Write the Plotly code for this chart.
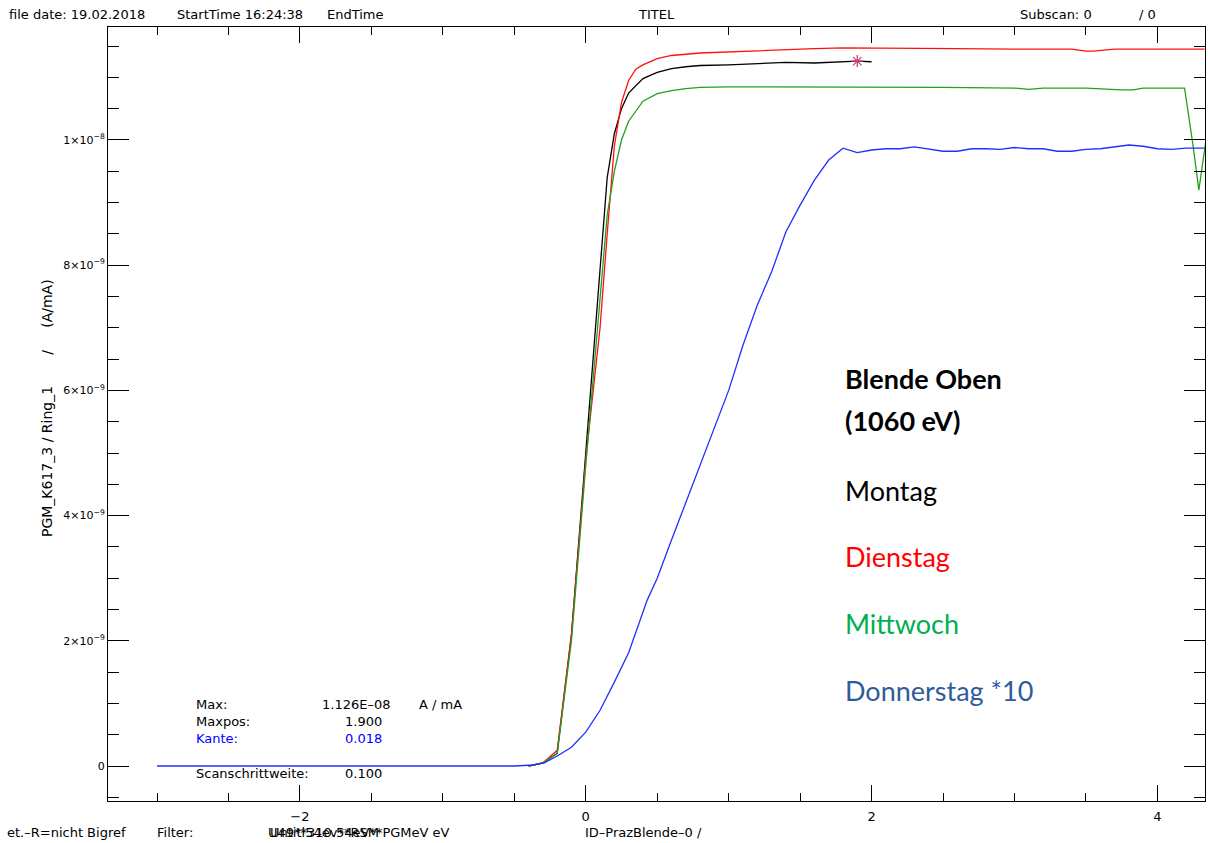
import plotly.graph_objects as go

# ---------------- data (x in eV offset, y in units of 1e-9 A/mA) ----------------
mon_x = [-0.4, -0.3, -0.2, -0.1, 0.0, 0.1, 0.15, 0.2, 0.25, 0.3, 0.4, 0.5, 0.6, 0.7, 0.8,
         1.0, 1.2, 1.4, 1.6, 1.8, 1.9, 2.0]
mon_y = [0.0, 0.05, 0.2, 2.1, 5.0, 7.9, 9.4, 10.1, 10.5, 10.75, 10.98, 11.08, 11.14, 11.17, 11.19,
         11.2, 11.22, 11.24, 11.23, 11.25, 11.26, 11.25]

die_x = [-0.4, -0.3, -0.2, -0.1, 0.0, 0.1, 0.15, 0.2, 0.25, 0.3, 0.35, 0.4, 0.5, 0.6, 0.8,
         1.0, 1.2, 1.4, 1.6, 1.8, 2.0, 2.2, 2.6, 3.0, 3.4, 3.5, 3.55, 3.7, 4.0, 4.33]
die_y = [0.0, 0.05, 0.25, 2.1, 4.9, 7.0, 8.5, 9.9, 10.6, 10.95, 11.13, 11.2, 11.3, 11.35, 11.39,
         11.41, 11.43, 11.45, 11.46, 11.47, 11.47, 11.46, 11.46, 11.45, 11.45, 11.42, 11.42, 11.45, 11.45, 11.45]

mit_x = [-0.4, -0.3, -0.2, -0.1, 0.0, 0.1, 0.15, 0.2, 0.25, 0.3, 0.4, 0.5, 0.6, 0.7, 0.8,
         1.0, 1.5, 2.0, 2.5, 3.0, 3.1, 3.2, 3.5, 3.75, 3.83, 3.9, 4.19, 4.25, 4.29, 4.34]
mit_y = [0.0, 0.05, 0.2, 2.0, 4.8, 7.4, 8.8, 9.5, 10.0, 10.3, 10.62, 10.74, 10.79, 10.82, 10.84,
         10.85, 10.85, 10.85, 10.84, 10.83, 10.81, 10.83, 10.83, 10.80, 10.80, 10.83, 10.83, 9.9, 9.2, 10.0]

don_x = [-3.0, -2.0, -1.0, -0.5, -0.37, -0.29, -0.2, -0.1, 0.0, 0.1, 0.2, 0.3, 0.43, 0.5, 0.6,
         0.7, 0.8, 0.9, 1.0, 1.1, 1.2, 1.3, 1.4, 1.5, 1.6, 1.7, 1.8, 1.9, 2.0, 2.1, 2.2, 2.3,
         2.4, 2.5, 2.6, 2.7, 2.8, 2.9, 3.0, 3.1, 3.2, 3.3, 3.4, 3.5, 3.6, 3.7, 3.8, 3.9, 4.0,
         4.1, 4.2, 4.33]
don_y = [0.0, 0.0, 0.0, 0.0, 0.016, 0.05, 0.16, 0.30, 0.54, 0.89, 1.34, 1.81, 2.65, 3.0, 3.61,
         4.2, 4.81, 5.4, 6.0, 6.72, 7.36, 7.89, 8.53, 8.96, 9.36, 9.68, 9.87, 9.80, 9.84, 9.86, 9.86, 9.89,
         9.85, 9.82, 9.82, 9.86, 9.86, 9.85, 9.88, 9.86, 9.86, 9.82, 9.82, 9.85, 9.86, 9.89, 9.92, 9.90, 9.86,
         9.85, 9.87, 9.87]

max_x = [1.9]
max_y = [11.26]

ytick_vals = [0, 2, 4, 6, 8, 10]
ytick_text = ["0", "2×10<sup>−9</sup>", "4×10<sup>−9</sup>", "6×10<sup>−9</sup>",
              "8×10<sup>−9</sup>", "1×10<sup>−8</sup>"]
xtick_vals = [-2, 0, 2, 4]
xtick_text = ["−2", "0", "2", "4"]

E = 1e-9
fig = go.Figure()
fig.add_trace(go.Scatter(x=mon_x, y=[v * E for v in mon_y], mode="lines",
                         line=dict(color="#000000", width=1.3), name="Montag"))
fig.add_trace(go.Scatter(x=die_x, y=[v * E for v in die_y], mode="lines",
                         line=dict(color="#FF1010", width=1.3), name="Dienstag"))
fig.add_trace(go.Scatter(x=mit_x, y=[v * E for v in mit_y], mode="lines",
                         line=dict(color="#22A022", width=1.3), name="Mittwoch"))
fig.add_trace(go.Scatter(x=don_x, y=[v * E for v in don_y], mode="lines",
                         line=dict(color="#2030FF", width=1.3), name="Donnerstag"))
fig.add_trace(go.Scatter(x=max_x, y=[v * E for v in max_y], mode="markers",
                         marker=dict(symbol="asterisk-open", size=10, color="#D0407A",
                                     line=dict(color="#D0407A", width=1.3)), name="max"))

# page body margin is removed in post_script, so the figure sits at (0, 0)
OFF = 0
W, H = 1208 - OFF, 843 - OFF
L, R, T, B = 108, 1205, 27, 801   # plot-area edges in window pixels


def px(x):
    return (x - L) / (R - L)


def py(y):
    return (B - y) / (B - T)


annos = []


def txt(x, y, s, size=13, color="#000000", anchor="left", family="DejaVu Sans", bold=False, angle=0):
    annos.append(dict(x=px(x), y=py(y), xref="paper", yref="paper", text=("<b>%s</b>" % s) if bold else s,
                      showarrow=False, xanchor=anchor, yanchor="middle", textangle=angle,
                      font=dict(family=family, size=size, color=color)))


NB = "\u00a0"
txt(7, 14, "file date: 19.02.2018")
txt(175, 14, "StartTime 16:24:38")
txt(325, 14, "EndTime")
txt(656, 14, "TITEL", anchor="center")
txt(1018, 14, "Subscan: 0")
txt(1137, 14, "/ 0")

txt(5, 832, "et.–R=nicht Bigref")
txt(155, 832, "Filter:")
txt(266, 832, "U49**310.54eV**PGMeV eV")
txt(268, 832, "Untitl54ev**RSM")
txt(583, 832, "ID–PrazBlende–0 /")

txt(47, 408, "PGM_K617_3 / Ring_1" + NB * 7 + "/" + NB * 5 + "(A/mA)", size=14, angle=-90, anchor="center")

txt(194, 704, "Max:")
txt(320, 704, "1.126E–08")
txt(417, 704, "A / mA")
txt(194, 721, "Maxpos:")
txt(384, 721, "1.900", anchor="right")
txt(194, 738, "Kante:", color="#0000FF")
txt(384, 738, "0.018", color="#0000FF", anchor="right")
txt(194, 773, "Scanschrittweite:")
txt(384, 773, "0.100", anchor="right")

BIG = "Lato"
txt(843, 379, "Blende Oben", size=27, bold=True, family=BIG)
txt(843, 421, "(1060 eV)", size=27, bold=True, family=BIG)
txt(843, 490, "Montag", size=27, family=BIG, color="#000000")
txt(843, 556, "Dienstag", size=27, family=BIG, color="#FF0000")
txt(843, 623, "Mittwoch", size=27, family=BIG, color="#00B050")
txt(843, 690, "Donnerstag *10", size=27, family=BIG, color="#2F5B9A")

x0 = -3.343
x1 = 4.333
y0 = -0.559e-9
y1 = 11.805e-9

fig.update_layout(
    width=W, height=H,
    margin=dict(l=L - OFF, r=W - (R - OFF), t=T - OFF, b=H - (B - OFF), pad=0),
    paper_bgcolor="white", plot_bgcolor="white",
    showlegend=False,
    annotations=annos,
    xaxis=dict(range=[x0, x1], showgrid=False, zeroline=False,
               showline=True, linecolor="black", linewidth=1, mirror="ticks",
               ticks="inside", ticklen=16, tickwidth=1, tickcolor="black",
               tickmode="array", tickvals=xtick_vals, ticktext=xtick_text, ticklabelstandoff=3,
               tickfont=dict(family="DejaVu Sans", size=13, color="#000000"),
               minor=dict(ticks="inside", ticklen=8, tickwidth=1, tickcolor="black",
                          tickmode="linear", tick0=0, dtick=0.5, showgrid=False)),
    yaxis=dict(range=[y0, y1], showgrid=False, zeroline=False,
               showline=True, linecolor="black", linewidth=1, mirror="ticks",
               ticks="inside", ticklen=21, tickwidth=1, tickcolor="black",
               tickmode="array", tickvals=[v * E for v in ytick_vals], ticktext=ytick_text,
               tickfont=dict(family="DejaVu Sans", size=11, color="#000000"),
               minor=dict(ticks="inside", ticklen=11, tickwidth=1, tickcolor="black",
                          tickmode="linear", tick0=0, dtick=0.5e-9, showgrid=False)),
)

fig.write_html("out.html",
               config={"displayModeBar": False},
               post_script="document.body.style.margin='0';"
                           "document.documentElement.style.overflow='hidden';"
                           "document.body.style.overflow='hidden';")
